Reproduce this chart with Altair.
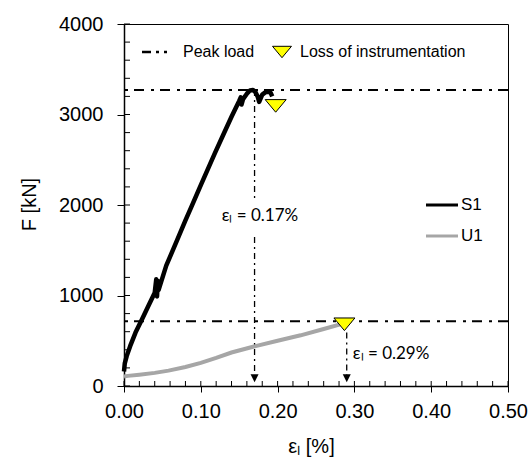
import altair as alt
import pandas as pd

# ---- data ----
s1_strain = [0.000, 0.001, 0.0035, 0.008, 0.015, 0.023, 0.032, 0.040, 0.042, 0.043, 0.044, 0.045,
             0.055, 0.0686, 0.080, 0.088, 0.100, 0.1185, 0.130, 0.140, 0.146, 0.150, 0.152, 0.153,
             0.155, 0.160, 0.164, 0.168, 0.171, 0.174, 0.176, 0.180, 0.184, 0.188, 0.191, 0.193]
s1_load = [160, 250, 330, 440, 590, 730, 890, 1030, 1180, 990, 1160, 1060,
           1330, 1600, 1830, 1985, 2220, 2575, 2790, 2975, 3080, 3150, 3190, 3110,
           3170, 3230, 3265, 3270, 3250, 3200, 3140, 3220, 3245, 3250, 3240, 3200]

u1_strain = [0.000, 0.005, 0.020, 0.040, 0.058, 0.080, 0.100, 0.120, 0.140, 0.168, 0.200, 0.230, 0.260, 0.285]
u1_load = [105, 112, 125, 145, 170, 210, 255, 310, 370, 434, 500, 560, 630, 690]

peak_load = [3270, 715]
loss_strain = [0.1975, 0.287]
loss_load = [3095, 682]

# vertical dash-dot strain markers (segments)
vline_x = [0.17, 0.17, 0.29]
vline_top = [3270, 1646, 590]
vline_bottom = [2077, 95, 95]
arrow_x = [0.17, 0.29]
arrow_y = [85, 85]

strain_labels = ["\u03b5\u2097 = 0.17%", "\u03b5\u2097 = 0.29%"]
strain_label_x = [0.177, 0.298]
strain_label_y = [1880, 355]
strain_label_align = ["center", "left"]

y_ticks = [0, 1000, 2000, 3000, 4000]
x_ticks = [0.0, 0.1, 0.2, 0.3, 0.4, 0.5]
y_minor = list(range(0, 4001, 200))
x_minor = [round(i * 0.02, 2) for i in range(26)]

series_names = ["S1", "U1"]
legend_top = ["Peak load", "Loss of instrumentation"]
x_title = "\u03b5\u2097 [%]"
y_title = "F [kN]"

FONT = "Liberation Sans"

s1 = pd.DataFrame({"x": s1_strain, "F": s1_load, "i": range(len(s1_strain))})
u1 = pd.DataFrame({"x": u1_strain, "F": u1_load, "i": range(len(u1_strain))})

xs = alt.Scale(domain=[0, 0.5], nice=False, zero=False)
ys = alt.Scale(domain=[0, 4000], nice=False, zero=False)

xaxis = alt.Axis(values=x_ticks, format=".2f", tickSize=6, labelPadding=9, grid=False,
                 labelFlush=False, labelOverlap=False,
                 title=x_title, titleX=187, titleY=60, titleBaseline="middle",
                 labelFontSize=20, titleFontSize=20)
yaxis = alt.Axis(values=y_ticks, format="d", tickSize=7, labelPadding=14, grid=False,
                 labelFlush=False, labelOverlap=False,
                 title=y_title, titleX=-95, titleY=180, titleAngle=-90,
                 titleBaseline="middle", titleAlign="center",
                 labelFontSize=20, titleFontSize=20)

one = pd.DataFrame({"a": [0]})

base_axes = alt.Chart(one).mark_point(opacity=0).encode(
    x=alt.X("xx:Q", scale=xs, axis=xaxis),
    y=alt.Y("yy:Q", scale=ys, axis=yaxis),
).transform_calculate(xx="0", yy="0")

ytick_in = alt.Chart(pd.DataFrame({"F": y_minor})).mark_rule(color="black", strokeWidth=1).encode(
    y=alt.Y("F:Q", scale=ys), x=alt.value(0), x2=alt.value(6))
xtick_in = alt.Chart(pd.DataFrame({"x": x_minor})).mark_rule(color="black", strokeWidth=1).encode(
    x=alt.X("x:Q", scale=xs), y=alt.value(362), y2=alt.value(357))

peaks = alt.Chart(pd.DataFrame({"F": peak_load})).mark_rule(
    color="black", strokeWidth=2, strokeDash=[10, 6, 3, 7]).encode(y=alt.Y("F:Q", scale=ys))

vlines = alt.Chart(pd.DataFrame({"x": vline_x, "t": vline_top, "b": vline_bottom})).mark_rule(
    color="black", strokeWidth=1.3, strokeDash=[6, 4, 2, 4]).encode(
    x=alt.X("x:Q", scale=xs), y=alt.Y("t:Q", scale=ys), y2="b:Q")

arrows = alt.Chart(pd.DataFrame({"x": arrow_x, "F": arrow_y})).mark_point(
    shape="M-1,-1L1,-1L0,1Z", filled=True, color="black", opacity=1, size=64).encode(
    x=alt.X("x:Q", scale=xs), y=alt.Y("F:Q", scale=ys))

u1_line = alt.Chart(u1).mark_line(color="#a6a6a6", strokeWidth=4).encode(
    x=alt.X("x:Q", scale=xs), y=alt.Y("F:Q", scale=ys), order="i:Q")
s1_line = alt.Chart(s1).mark_line(color="black", strokeWidth=4.5, strokeJoin="round").encode(
    x=alt.X("x:Q", scale=xs), y=alt.Y("F:Q", scale=ys), order="i:Q")

TRI = "M-1,-0.6L1,-0.6L0,0.6Z"
loss = alt.Chart(pd.DataFrame({"x": loss_strain, "F": loss_load})).mark_point(
    shape=TRI, filled=True, fill="#ffff00", stroke="black", strokeWidth=1, opacity=1, size=441).encode(
    x=alt.X("x:Q", scale=xs), y=alt.Y("F:Q", scale=ys))

lab_df = pd.DataFrame({"x": strain_label_x, "F": strain_label_y, "t": strain_labels})
labs = alt.layer(*[
    alt.Chart(lab_df.iloc[[k]]).mark_text(font="Lato", fontSize=17, color="black",
                                          align=strain_label_align[k], baseline="middle").encode(
        x=alt.X("x:Q", scale=xs), y=alt.Y("F:Q", scale=ys), text="t:N")
    for k in range(2)])

# legend (top)
leg_line = alt.Chart(one).mark_rule(color="black", strokeWidth=2.5, strokeDash=[9, 5, 3, 5, 3, 5]).encode(
    x=alt.value(18), x2=alt.value(48), y=alt.value(28))
leg_txt1 = alt.Chart(one).mark_text(font=FONT, fontSize=16, align="left", baseline="middle").encode(
    x=alt.value(59), y=alt.value(28), text=alt.value(legend_top[0]))
leg_tri = alt.Chart(one).mark_point(shape=TRI, filled=True, fill="#ffff00", stroke="black",
                                   strokeWidth=1, opacity=1, size=360).encode(
    x=alt.value(158), y=alt.value(28))
leg_txt2 = alt.Chart(one).mark_text(font=FONT, fontSize=16, align="left", baseline="middle").encode(
    x=alt.value(176), y=alt.value(28), text=alt.value(legend_top[1]))

# series legend
ser_s1 = alt.Chart(one).mark_rule(color="black", strokeWidth=3).encode(
    x=alt.value(302), x2=alt.value(334), y=alt.value(181))
ser_u1 = alt.Chart(one).mark_rule(color="#a6a6a6", strokeWidth=3).encode(
    x=alt.value(302), x2=alt.value(334), y=alt.value(212))
ser_t1 = alt.Chart(one).mark_text(font=FONT, fontSize=17, align="left", baseline="middle").encode(
    x=alt.value(337), y=alt.value(181), text=alt.value(series_names[0]))
ser_t2 = alt.Chart(one).mark_text(font=FONT, fontSize=17, align="left", baseline="middle").encode(
    x=alt.value(337), y=alt.value(212), text=alt.value(series_names[1]))

chart = alt.layer(
    base_axes, ytick_in, xtick_in, peaks, vlines, arrows, u1_line, s1_line, loss, labs,
    leg_line, leg_txt1, leg_tri, leg_txt2, ser_s1, ser_u1, ser_t1, ser_t2,
).properties(
    width=384, height=362,
    autosize=alt.AutoSizeParams(type="none"),
    padding={"left": 124, "top": 24, "right": 22, "bottom": 71},
    background="white",
).configure_view(
    stroke="black", strokeWidth=1,
).configure_axis(
    labelFont=FONT, titleFont=FONT, titleFontWeight="normal", labelColor="black",
    titleColor="black", domainColor="black", tickColor="black", domainWidth=1.5, tickWidth=1,
)

chart.save("out.html", embed_options={"renderer": "svg", "actions": False})
